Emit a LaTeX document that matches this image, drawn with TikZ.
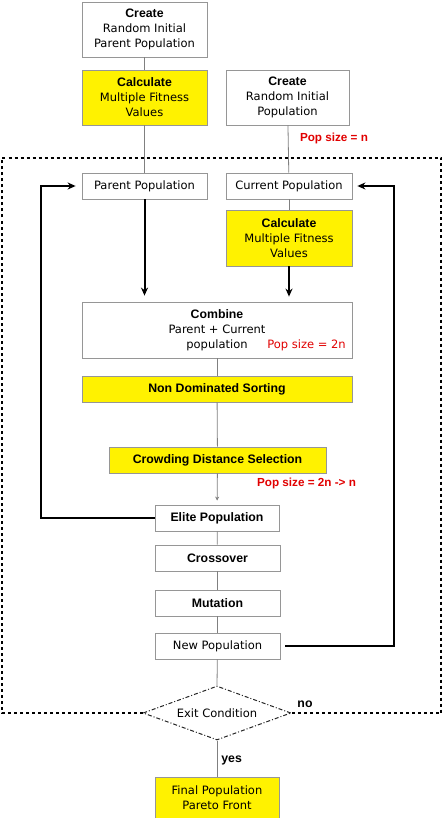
\documentclass[tikz,border=0pt]{standalone}
\usepackage{fontspec}
\setmainfont{DejaVu Sans}
\newfontfamily\headfont{Liberation Sans}
\usepackage{tikz}
\usetikzlibrary{shapes.geometric}
\usetikzlibrary{arrows.meta}
\usepackage{xcolor}
\definecolor{boxgray}{RGB}{150,150,150}
\definecolor{linegray}{RGB}{128,128,128}
\definecolor{popred}{RGB}{225,0,0}
\newcommand{\stagehead}[1]{{\headfont\bfseries\fontsize{12.3}{15}\selectfont #1}}

\tikzset{
  stage/.style={draw=boxgray, line width=0.8pt, fill=white, align=center, inner sep=0pt,
    minimum height=26pt, font=\fontsize{11.5}{15}\selectfont},
  calc/.style={stage, fill=yellow},
  link/.style={draw=linegray, line width=0.8pt},
  feed/.style={draw=black, line width=2pt, -{Stealth[length=8pt,width=7pt]}},
  popnote/.style={text=popred, inner sep=0pt, font=\headfont\bfseries\fontsize{11.7}{14}\selectfont},
  exitbox/.style={shape=diamond, shape aspect=2.74, draw=black!85, line width=1pt,
    dash pattern=on 4pt off 2pt on 1pt off 2pt, fill=white, inner sep=0pt,
    minimum width=148pt, minimum height=54pt, font=\fontsize{11.5}{14}\selectfont},
  boundary/.style={draw=black, line width=1.6pt, dash pattern=on 3pt off 3pt},
}

\begin{document}
\begin{tikzpicture}[x=1pt,y=-1pt]
\useasboundingbox (0,0) rectangle (442,818);
% outer loop frame
\node[exitbox] (exit) at (217,713) {Exit Condition};
\coordinate (fbl) at (2,713);
\coordinate (ftl) at (2,158);
\coordinate (ftr) at (441,158);
\coordinate (fbr) at (441,713);
\draw[boundary] (exit.west) -- (fbl) -- (ftl) -- (ftr) -- (fbr) -- (exit.east);
% start
\node[stage, minimum width=125pt, minimum height=55pt] (init) at (144.5,29.5) {\stagehead{Create}\\Random Initial\\Parent Population};
\node[calc, minimum width=125pt, minimum height=55pt] (fit1) at (144.5,97.5) {\stagehead{Calculate}\\Multiple Fitness\\Values};
\node[stage, minimum width=123pt, minimum height=55pt] (rand) at (287.5,97.5) {\stagehead{Create}\\Random Initial\\Population};
\node[popnote] (n1) at (334,138) {Pop size = n};
% generation
\node[stage, minimum width=125pt] (parent) at (144.5,186) {Parent Population};
\node[stage, minimum width=126pt] (current) at (289,186) {Current Population};
\node[calc, minimum width=126pt, minimum height=56pt] (fit2) at (289,238) {\stagehead{Calculate}\\Multiple Fitness\\Values};
\node[stage, minimum width=270pt, minimum height=56pt] (comb) at (217,330) {\stagehead{Combine}\\Parent + Current\\population};
\node[text=popred, inner sep=0pt, font=\fontsize{11.5}{14}\selectfont] (n2) at (306.5,345) {Pop size = 2n};
\node[calc, minimum width=270pt] (nds) at (217,389) {\stagehead{Non Dominated Sorting}};
\node[calc, minimum width=217pt] (cds) at (217.5,460) {\stagehead{Crowding Distance Selection}};
\node[popnote] (n3) at (306.5,483) {Pop size = 2n -> n};
\node[stage, minimum width=124pt] (elite) at (217,518) {\stagehead{Elite Population}};
\node[stage, minimum width=125pt] (cross) at (217.5,558) {\stagehead{Crossover}};
\node[stage, minimum width=125pt] (mut) at (217.5,603) {\stagehead{Mutation}};
\node[stage, minimum width=125pt] (newpop) at (217.5,646) {New Population};
\node[calc, minimum width=124pt, minimum height=41pt] (final) at (217,797.5) {Final Population\\Pareto Front};
% connectors
\draw[link] (init) -- (fit1);
\draw[link] (fit1) -- (parent);
\draw[link] (rand) -- (current);
\draw[link] (current) -- (fit2);
\draw[feed, shorten >=6pt] (parent.south) -- (parent.south |- comb.north);
\draw[feed, shorten >=5pt] (fit2.south) -- (fit2.south |- comb.north);
\draw[link] (comb) -- (nds);
\draw[link] (nds) -- (cds);
\draw[link, -{Stealth[length=4pt,width=4pt]}, shorten >=4pt] (cds) -- (elite);
\draw[link] (elite) -- (cross);
\draw[link] (cross) -- (mut);
\draw[link] (mut) -- (newpop);
\draw[link] (newpop) -- (exit.north);
\draw[link] (exit.south) -- (final) node[pos=0.55, right=4pt, inner sep=0pt] {\stagehead{yes}};
\node[inner sep=0pt] (no) at (305,704) {\stagehead{no}};
% loop backs
\coordinate (leftrail) at (41,186);
\coordinate (rightrail) at (394,186);
\draw[feed, shorten >=6pt] (elite.west) -| (leftrail) -- (parent.west);
\draw[feed, shorten <=5pt, shorten >=5pt] (newpop.east) -| (rightrail) -- (current.east);
\end{tikzpicture}
\end{document}
